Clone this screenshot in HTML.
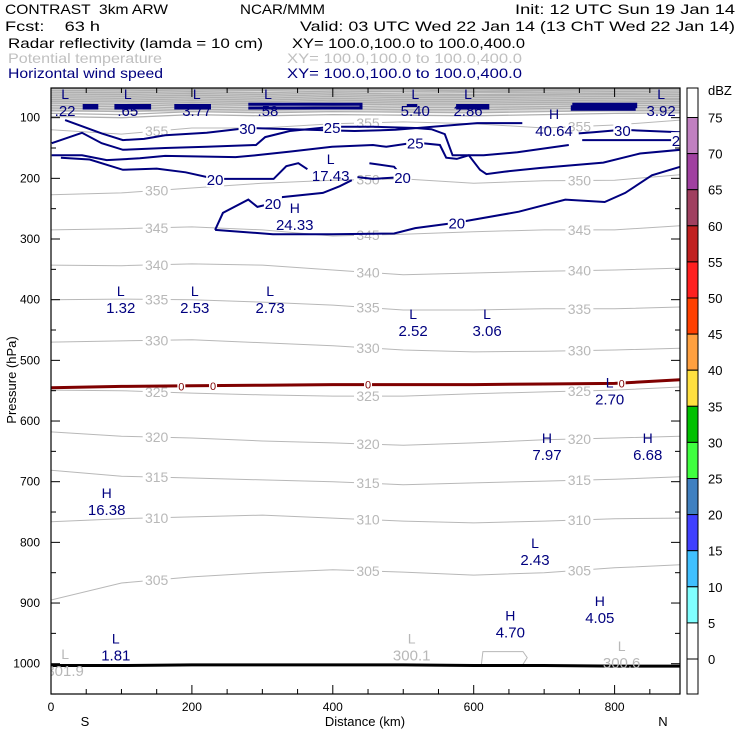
<!DOCTYPE html>
<html><head><meta charset="utf-8"><style>
html,body{margin:0;padding:0;background:#fff}
svg text{font-family:"Liberation Sans",sans-serif}
</style></head><body>
<svg id="chart" width="740" height="740" viewBox="0 0 740 740" xmlns="http://www.w3.org/2000/svg">
<g font-size="14" lengthAdjust="spacingAndGlyphs">
<text x="5" y="14" textLength="163" lengthAdjust="spacingAndGlyphs" xml:space="preserve">CONTRAST  3km ARW</text>
<text x="240" y="14" textLength="85" lengthAdjust="spacingAndGlyphs">NCAR/MMM</text>
<text x="515" y="14" textLength="220" lengthAdjust="spacingAndGlyphs">Init: 12 UTC Sun 19 Jan 14</text>
<text x="5" y="31" textLength="95" lengthAdjust="spacingAndGlyphs" xml:space="preserve">Fcst:    63 h</text>
<text x="300" y="31" textLength="435" lengthAdjust="spacingAndGlyphs">Valid: 03 UTC Wed 22 Jan 14 (13 ChT Wed 22 Jan 14)</text>
<text x="8" y="48" textLength="255" lengthAdjust="spacingAndGlyphs">Radar reflectivity (lamda = 10 cm)</text>
<text x="292" y="48" textLength="233" lengthAdjust="spacingAndGlyphs">XY= 100.0,100.0 to 100.0,400.0</text>
<text x="8" y="63" textLength="154" lengthAdjust="spacingAndGlyphs" fill="#c0c0c0">Potential temperature</text>
<text x="287" y="63" textLength="235" lengthAdjust="spacingAndGlyphs" fill="#c0c0c0">XY= 100.0,100.0 to 100.0,400.0</text>
<text x="8" y="78" textLength="155" lengthAdjust="spacingAndGlyphs" fill="#00007f">Horizontal wind speed</text>
<text x="287" y="78" textLength="235" lengthAdjust="spacingAndGlyphs" fill="#00007f">XY= 100.0,100.0 to 100.0,400.0</text>
</g>
<g id="plot"></g>
<g id="cbar"></g>
</svg>
<script>
const kmNodes=[0,100,200,300,400,500,600,700,800,893];
const thetaLevels=[355,350,345,340,335,330,325,320,315,310,305];
const thetaP=[
[120,127,117,117,110,107,110,117,112,104],
[227,224,216,208,203,201,208,204,203,194],
[285,283,280,285,295,292,288,285,285,278],
[343,344,341,343,351,359,356,353,351,348],
[400,399,400,404,409,417,417,415,415,412],
[470,468,466,471,476,483,486,485,483,480],
[549,550,554,557,559,559,555,552,549,544],
[618,625,628,633,636,640,636,631,628,625],
[681,691,694,697,700,705,702,699,696,692],
[766,761,758,755,760,765,768,765,761,760],
[895,867,857,850,845,849,854,850,842,837]];
const stratoP=[
[52,53,52,53,52,52,53,53,52,52],
[55,56,54,55,53,54,56,55,54,53],
[58,59,57,59,56,57,58,58,57,56],
[61,62,60,62,59,61,62,61,60,59],
[64,65,63,65,62,64,64,63,62,62],
[67,68,66,68,65,67,67,66,65,65],
[70,71,69,71,68,70,70,69,68,68],
[73,74,72,74,71,73,73,72,71,70],
[76,78,75,77,74,76,76,75,74,73],
[80,82,78,80,77,79,79,78,77,76],
[84,86,82,84,81,83,83,82,80,80],
[88,90,86,88,85,87,87,85,84,83],
[93,95,90,92,90,91,92,90,88,88],
[98,100,95,97,95,96,97,95,93,92]];
const freezeP=[545,543,542,541,540,540,540,539,538,532];
const surfaceP=[1003,1003,1002,1002,1002,1002,1003,1003,1004,1004];
const windLines=[
[[20,104],[72,126],[102,137],[132,135],[162,129],[221,125],[279,117],[396,121],[431,122],[489,120],[605,109],[669,109]],
[[749,126],[770,124],[811,120],[893,124]],
[[1,142],[44,125],[72,142],[102,153],[162,150],[221,148],[291,145],[304,132],[339,122],[399,115],[457,115],[517,117],[540,119],[559,127],[570,162],[614,162],[662,157],[735,145]],
[[754,137],[893,137]],
[[1,162],[44,162],[79,170],[126,167],[162,163],[262,165],[291,162],[339,156],[399,148],[457,145],[476,148],[517,141],[552,145],[561,166],[576,168],[593,162],[609,186],[618,193],[643,189],[694,183],[784,174],[836,159],[893,153]],
[[14,166],[55,169],[102,186],[150,184],[191,190],[233,201],[280,201],[316,201],[334,180],[351,175],[364,185]],
[[452,175],[487,181],[499,198],[457,201],[435,198]],
[[233,285],[244,257],[280,235],[293,247],[315,241],[328,231],[386,224],[410,213],[427,203]],
[[233,285],[268,288],[315,292],[399,292],[487,291],[517,282],[576,273],[664,255],[730,235],[786,239],[815,224],[853,195],[893,181]]
];
const windLineLevels=[30,30,25,25,25,20,20,20,20];
const extremaType=['L','L','L','L','L','L','L','H','L','H','L','L','L','L','L','L','H','H','H','L','H','H','L'];
const extremaVal=['.22','.65','3.77','.58','5.40','2.86','3.92','40.64','17.43','24.33','1.32','2.53','2.73','2.52','3.06','2.70','7.97','6.68','16.38','2.43','4.05','4.70','1.81'];
const extremaKm=[20,109,207,308,517,592,866,714,397,346,99,204,311,514,619,793,704,847,79,687,779,652,92];
const extremaP=[69,69,69,69,69,69,69,102,176,257,394,394,394,432,432,545,636,636,727,809,905,929,967];
const thetaExKm=[20,512,810];
const thetaExVal=['301.9','300.1','300.6'];
const thetaExP=[1020,995,1007];
const pTicks=[100,200,300,400,500,600,700,800,900,1000];
const xTicks=[0,200,400,600,800];
const dbzLabels=[75,70,65,60,55,50,45,40,35,30,25,20,15,10,5,0];
const dbzColors=['#c080c0','#a040a0','#a04060','#c02020','#ff2020','#ff4000','#ffa040','#ffe040','#00c000','#40ff40','#4080c0','#4040ff','#40c0ff','#80ffff'];

const NS='http://www.w3.org/2000/svg';
const X0=51,X1=680,Y0=88,Y1=694;
const xs=km=>X0+km*0.7045;
const ys=p=>57+p*0.6067;
const plot=document.getElementById('plot');
const cb=document.getElementById('cbar');
function mk(tag,attrs,parent){const e=document.createElementNS(NS,tag);for(const k in attrs)e.setAttribute(k,attrs[k]);parent.appendChild(e);return e;}
function path(pts){return pts.map((q,i)=>(i?'L':'M')+xs(q[0]).toFixed(1)+','+ys(q[1]).toFixed(1)).join(' ');}
const clip=mk('clipPath',{id:'pc'},mk('defs',{},plot));mk('rect',{x:X0,y:Y0,width:X1-X0,height:Y1-Y0},clip);
const inner=mk('g',{'clip-path':'url(#pc)'},plot);
mk('rect',{x:X0,y:Y0,width:X1-X0,height:24,fill:'#d8d8d8'},inner);
stratoP.forEach((row,i)=>{
 const e=mk('path',{d:path(kmNodes.map((k,j)=>[k,row[j]])),fill:'none',stroke:'#b0b0b0','stroke-width':1.3},inner);
 
 
});
thetaP.forEach((row,i)=>{
 const e=mk('path',{d:path(kmNodes.map((k,j)=>[k,row[j]])),fill:'none',stroke:'#b8b8b8','stroke-width':1},inner);
 
 
 [2,5,8].forEach(j=>{
  const km=(kmNodes[j]+kmNodes[j-1])/2,p=(row[j]+row[j-1])/2;
  mk('rect',{x:xs(km)-14,y:ys(p)-7,width:28,height:14,fill:'#fff'},inner);
  const t=mk('text',{x:xs(km),y:ys(p)+5,'text-anchor':'middle','font-size':14,fill:'#b8b8b8'},inner);
  t.textContent=thetaLevels[i];
  
  
 });
});
const sc=mk('path',{d:path([[611,1001],[613,980],[670,980],[676,990],[670,1001]]),fill:'none',stroke:'#b8b8b8'},inner);


[[[45,80],[65,80],[65,84],[45,84]],[[90,80],[140,80],[140,84],[90,84]],[[175,80],[225,80],[225,84],[175,84]],[[280,78],[440,78],[440,84],[280,84]],[[505,80],[520,80]],[[575,80],[620,80],[620,84],[575,84]],[[740,78],[830,78],[830,82],[740,82],[740,86],[830,86]]].forEach(b=>{
 const e=mk('path',{d:path(b),fill:'none',stroke:'#00007f','stroke-width':3},inner);
 
 
});
windLines.forEach((ln,i)=>{
 const e=mk('path',{d:path(ln),fill:'none',stroke:'#00007f','stroke-width':2},inner);
 
 
 const m=ln[Math.floor(ln.length/2)];
 mk('rect',{x:xs(m[0])-9,y:ys(m[1])-8,width:18,height:16,fill:'#fff'},inner);
 const t=mk('text',{x:xs(m[0]),y:ys(m[1])+6,'text-anchor':'middle','font-size':15,fill:'#00007f'},inner);
 t.textContent=windLineLevels[i];
 
 
});
const fz=mk('path',{d:path(kmNodes.map((k,j)=>[k,freezeP[j]])),fill:'none',stroke:'#7f0000','stroke-width':3},inner);


[185,230,450,810].forEach(km=>{
 const j=Math.min(9,Math.floor(km/100)+1);const p=freezeP[j-1];
 mk('rect',{x:xs(km)-4,y:ys(p)-6,width:8,height:11,fill:'#fff'},inner);
 const t=mk('text',{x:xs(km),y:ys(p)+4,'text-anchor':'middle','font-size':11,fill:'#7f0000'},inner);
 t.textContent='0';
 
 
});
const sf=mk('path',{d:path(kmNodes.map((k,j)=>[k,surfaceP[j]])),fill:'none',stroke:'#000','stroke-width':3},inner);


extremaType.forEach((ty,i)=>{
 const x=xs(extremaKm[i]),y=ys(extremaP[i]);
 const t1=mk('text',{x:x,y:y,'text-anchor':'middle','font-size':14,fill:'#00007f'},inner);
 t1.textContent=ty;
 
 
 const t2=mk('text',{x:x,y:y+17,'text-anchor':'middle','font-size':15,fill:'#00007f'},inner);
 t2.textContent=extremaVal[i];
 
 
});
thetaExVal.forEach((v,i)=>{
 const x=xs(thetaExKm[i]),y=ys(thetaExP[i]);
 const t1=mk('text',{x:x,y:y-17,'text-anchor':'middle','font-size':14,fill:'#b8b8b8'},inner);t1.textContent='L';
 
 
 const t2=mk('text',{x:x,y:y,'text-anchor':'middle','font-size':15,fill:'#b8b8b8'},inner);t2.textContent=v;
 
 
});
const fr=mk('rect',{x:X0,y:Y0,width:X1-X0,height:Y1-Y0,fill:'none',stroke:'#000','stroke-width':1.2},plot);


for(let p=100;p<=1050;p+=50){const y=ys(p),L=p%100?5:9;
 mk('line',{x1:X0,x2:X0+L,y1:y,y2:y,stroke:'#000'},plot);mk('line',{x1:X1,x2:X1-L,y1:y,y2:y,stroke:'#000'},plot);}
for(let k=0;k<=893;k+=50){const x=xs(k),L=k%200?5:9;
 mk('line',{x1:x,x2:x,y1:Y1,y2:Y1-L,stroke:'#000'},plot);mk('line',{x1:x,x2:x,y1:Y0,y2:Y0+L,stroke:'#000'},plot);}
pTicks.forEach(p=>{const t=mk('text',{x:40,y:ys(p)+4,'text-anchor':'end','font-size':12},plot);t.textContent=p;
 
 });
xTicks.forEach(k=>{const t=mk('text',{x:xs(k),y:711,'text-anchor':'middle','font-size':12},plot);t.textContent=k;
 
 });
const yt=mk('text',{x:0,y:0,transform:'translate(16,380) rotate(-90)','text-anchor':'middle','font-size':13},plot);yt.textContent='Pressure (hPa)';


const xt=mk('text',{x:365,y:726,'text-anchor':'middle','font-size':13},plot);xt.textContent='Distance (km)';


const sl=mk('text',{x:85,y:726,'text-anchor':'middle','font-size':13},plot);sl.textContent='S';


const nl=mk('text',{x:663,y:726,'text-anchor':'middle','font-size':13},plot);nl.textContent='N';


const CX=687,CW=11,CT=117.5,STEP=36.1;
mk('rect',{x:CX,y:Y0,width:CW,height:Y1-Y0,fill:'#fff',stroke:'#000'},cb);
dbzColors.forEach((c,i)=>{const r=mk('rect',{x:CX,y:CT+i*STEP,width:CW,height:STEP,fill:c,stroke:'#000','stroke-width':1},cb);
 
 });
mk('line',{x1:CX,x2:CX+CW,y1:CT+15*STEP,y2:CT+15*STEP,stroke:'#000'},cb);
dbzLabels.forEach((v,i)=>{const t=mk('text',{x:708,y:CT+i*STEP+5,'font-size':13},cb);t.textContent=v;
 
 });
const u=mk('text',{x:708,y:95,'font-size':13},cb);u.textContent='dBZ';


</script>
</body></html>
